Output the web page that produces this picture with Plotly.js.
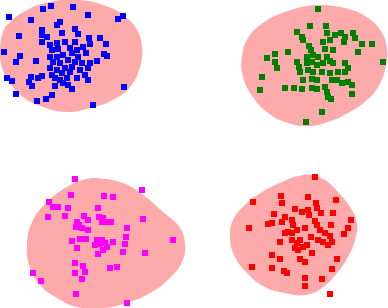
<!DOCTYPE html>
<html>
<head>
<meta charset="utf-8">
<script src="https://cdn.plot.ly/plotly-3.0.1.min.js"></script>
<style>html,body{margin:0;padding:0;background:#fff;}#chart{width:388px;height:308px;}</style>
</head>
<body>
<div id="chart"></div>
<script>
// Cluster point data (x, y in picture units, y down)
const blueX = [9,43,51,73,31,88,118,123,60,57,42,42,42,19,75,78,62,47,89,100,90,106,65,75,50,57,52,58,70,77,83,4,20,16,86,104,107,50,57,63,72,78,36,53,60,68,75,82,90,97,50,57,65,72,80,88,52,62,70,85,7,12,31,29,32,38,42,55,60,67,77,88,55,63,68,72,124,16,52,46,37,93];
const blueY = [17,9,6,7,20,15,19,16,22,25,30,35,42,36,29,34,33,37,38,38,44,44,42,42,45,43,50,49,48,50,47,52,56,62,53,54,56,57,57,55,53,57,61,62,63,60,62,63,63,61,68,70,68,67,70,68,75,73,72,75,78,81,77,82,86,78,76,78,80,78,78,80,86,83,85,89,87,94,95,99,101,105];

const greenX = [318,310,326,297,302,303,327,335,341,345,344,353,355,323,330,362,372,309,311,325,333,288,275,358,267,307,313,318,327,330,275,277,297,299,300,383,307,312,317,323,333,345,348,308,313,322,330,338,345,262,303,312,317,332,337,342,348,352,285,294,302,312,317,325,327,328,331,260,352,322,306];
const greenY = [9,26,26,32,37,40,33,35,33,37,42,33,38,42,40,44,44,46,50,49,50,52,54,52,58,57,55,57,57,61,62,68,62,67,72,62,63,62,65,63,63,63,68,70,72,72,73,72,72,77,80,79,80,80,80,83,82,85,88,88,89,88,89,87,92,97,99,90,94,112,122];

const magentaX = [75,71,142,49,104,113,53,58,68,98,48,65,84,88,99,103,107,102,111,143,77,79,82,76,88,127,126,125,173,72,80,86,97,102,95,99,105,107,113,103,77,123,98,145,75,83,85,82,75,110,117,33,41,76,127];
const magentaY = [179,195,190,202,196,197,207,207,208,208,217,216,216,220,217,218,222,222,222,219,222,225,228,227,230,228,237,244,240,241,239,239,240,240,245,244,243,247,242,250,248,252,254,253,263,266,272,279,273,268,267,273,281,294,303];

const redX = [315,281,253,282,308,316,317,336,295,302,308,309,321,274,333,285,282,272,268,292,293,297,315,317,351,331,249,305,320,325,348,344,288,285,292,330,311,280,292,297,300,295,298,303,307,318,323,328,332,312,272,280,300,305,337,252,272,284,287,332,305,305,322,330];
const redY = [177,196,202,203,197,203,208,200,209,212,210,215,213,214,213,217,222,223,224,220,225,230,221,225,220,225,228,228,230,233,228,234,232,233,233,236,237,242,240,243,240,248,250,247,245,240,242,245,242,253,255,259,259,262,259,267,268,271,273,269,278,286,279,294];

// Hull outlines around each cluster
const blobBlueX = [3,0,2,10,23,43,67,90,113,130,140,142,137,123,103,77,50,27,10];
const blobBlueY = [32,50,67,83,97,107,112,108,100,87,67,47,30,15,5,0,2,10,22];
const blobGreenX = [318,345,368,382,387,385,378,367,348,328,308,288,268,253,243,242,248,263,285];
const blobGreenY = [5,8,18,33,50,70,87,100,113,122,126,123,113,97,77,57,38,23,12];
const blobMagentaX = [97,123,143,163,180,185,182,170,150,127,103,77,57,40,30,27,32,47,67,83];
const blobMagentaY = [178,183,195,212,228,245,262,278,293,303,308,307,298,285,268,245,222,202,187,180];
const blobRedX = [313,325,338,350,357,355,348,337,322,305,285,265,247,235,230,233,245,262,282,298];
const blobRedY = [175,180,192,207,223,240,257,273,288,295,293,287,273,257,238,220,205,192,182,176];

const pink = '#FFAAAA';
function blob(xs, ys) {
  return {x: xs.concat([xs[0], xs[1]]), y: ys.concat([ys[0], ys[1]]), mode: 'lines', fill: 'toself',
    fillcolor: pink, line: {width: 0, shape: 'spline', smoothing: 1.3, color: pink}, hoverinfo: 'skip'};
}
function pts(xs, ys, c) {
  return {x: xs, y: ys, mode: 'markers', type: 'scatter',
    marker: {symbol: 'square', size: 6, color: c, line: {width: 0}}};
}
const data = [
  blob(blobBlueX, blobBlueY), blob(blobGreenX, blobGreenY),
  blob(blobMagentaX, blobMagentaY), blob(blobRedX, blobRedY),
  pts(blueX, blueY, '#0000FF'), pts(greenX, greenY, '#008000'),
  pts(magentaX, magentaY, '#FF00FF'), pts(redX, redY, '#FF0000')
];
const layout = {
  width: 388, height: 308, margin: {l: 0, r: 0, t: 0, b: 0},
  paper_bgcolor: '#ffffff', plot_bgcolor: '#ffffff', showlegend: false,
  xaxis: {range: [0, 388], visible: false, fixedrange: true},
  yaxis: {range: [308, 0], visible: false, fixedrange: true}
};
Plotly.newPlot('chart', data, layout, {staticPlot: true, displayModeBar: false});
</script>
</body>
</html>
